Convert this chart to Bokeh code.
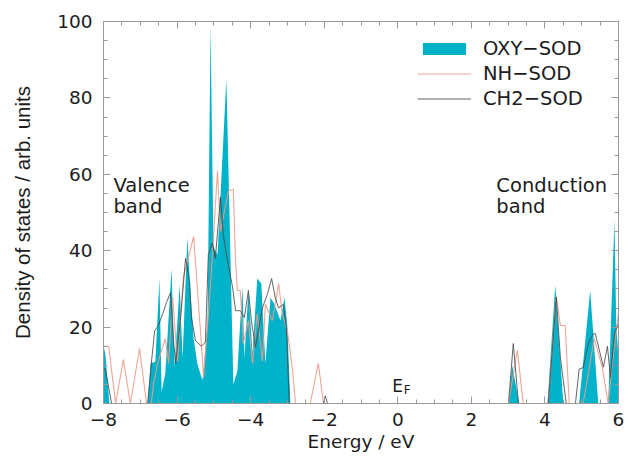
import numpy as np
from bokeh.plotting import figure
from bokeh.models import (Range1d, LinearAxis, FixedTicker, Label, Legend, LegendItem)
from bokeh.embed import file_html
from bokeh.resources import INLINE

# ---- data (energy in eV, density of states in arb. units) ----
oxy_e = [-8.00, -7.95, -7.84, -6.80, -6.72, -6.59, -6.48, -6.42, -6.32, -6.15,
         -6.07, -5.93, -5.85, -5.72, -5.64, -5.55, -5.45, -5.31, -5.23, -5.17,
         -5.09, -5.01, -4.90, -4.66, -4.55, -4.47, -4.36, -4.28, -4.22, -4.17,
         -4.06, -3.95, -3.82, -3.71, -3.60, -3.46, -3.35, -3.19, -3.08, -3.00,
         -2.92, 3.01, 3.11, 3.30, 4.07, 4.28, 4.50, 4.93, 5.23, 5.45,
         5.72, 5.89, 5.94, 6.00]
oxy_dos = [15, 13, 0, 0, 10.5, 11, 32.7, 3, 8, 35.3,
           9.5, 31, 12, 43.4, 29.6, 17, 10.5, 6, 14, 21.7,
           99, 41, 39, 85, 39, 5, 8.6, 21.7, 30.4, 12,
           29.6, 13, 32.7, 31.4, 10.5, 27.7, 26, 21.7, 27.7, 20,
           0, 0, 10, 0, 0, 31, 0, 0, 29.6, 0,
           0, 48, 20, 12]

nh_e = [-8.00, -7.86, -7.67, -7.46, -7.27, -7.02, -6.83, -6.70, -6.64, -6.53,
        -6.32, -6.23, -6.12, -5.99, -5.83, -5.55, -5.34, -5.28, -5.09, -4.90,
        -4.82, -4.60, -4.47, -4.41, -4.36, -4.28, -4.20, -4.06, -3.95, -3.82,
        -3.68, -3.60, -3.41, -3.24, -3.14, -3.00, -2.86, -2.78, -2.38, -2.16,
        -2.02, 3.01, 3.25, 3.41, 4.09, 4.31, 4.42, 4.55, 4.66, 5.04,
        5.34, 5.56, 5.72, 5.83, 6.00]
nh_dos = [15, 15, 0, 11.5, 0, 14.4, 0, 0, 5, 10.5,
          17, 10.5, 27.7, 11, 33, 43.7, 15.7, 6.8, 31, 61,
          45, 55.7, 56, 37, 29.6, 29.6, 15.7, 21.7, 10.5, 23.5,
          11, 26, 21.7, 31.4, 23.5, 19, 8.6, 0, 0, 10.5,
          0, 0, 14, 0, 0, 28, 20.4, 20.4, 0, 0,
          17, 9.4, 0, 10, 24]

ch2_e = [-8.00, -7.95, -7.78, -6.80, -6.70, -6.61, -6.51, -6.37, -6.29, -6.18,
         -6.10, -6.04, -5.91, -5.77, -5.66, -5.61, -5.50, -5.34, -5.23, -5.15,
         -5.04, -4.96, -4.82, -4.74, -4.63, -4.49, -4.41, -4.28, -4.17, -4.06,
         -3.98, -3.87, -3.68, -3.54, -3.43, -3.33, -3.24, -3.11, -3.03, -2.95,
         -2.02, -1.97, -1.91, 3.01, 3.14, 3.28, 4.09, 4.31, 4.42, 4.58,
         4.83, 4.93, 5.04, 5.18, 5.32, 5.37, 5.59, 5.70, 5.78, 5.89,
         6.00]
ch2_dos = [9, 9, 0, 0, 10.5, 19, 20.4, 24, 26.4, 29,
           17, 10.5, 21.7, 38, 32, 22.5, 16.5, 15, 16, 39,
           42, 38, 54, 44, 37.4, 30.4, 24.3, 24.3, 22.5, 29.6,
           21.7, 14.7, 25, 28.8, 32.7, 27.7, 25, 26, 20, 0,
           0, 2, 0, 0, 15.7, 0, 0, 27.8, 12, 0,
           0, 9, 9.4, 15.7, 18.3, 18.3, 9.5, 15, 6.8, 18.3,
           21]

series_names = ["OXY\u2212SOD", "NH\u2212SOD", "CH2\u2212SOD"]
x_ticks = [-8, -6, -4, -2, 0, 2, 4, 6]
x_tick_labels = ["\u22128", "\u22126", "\u22124", "\u22122", "0", "2", "4", "6"]
x_minor = [-8 + 0.5 * i for i in range(29)]
y_ticks = [0, 20, 40, 60, 80, 100]
y_minor = [5 * i for i in range(21)]

FONT = "DejaVu Sans"
TXT = "#1c1c1c"
AX = "#9a9a9a"
CYAN = "#00B3CB"
SALMON = "#EE9A88"
GRAY = "#4a4a4a"

p = figure(width=628, height=458, x_range=Range1d(-8, 6), y_range=Range1d(0, 100),
           output_backend="svg", toolbar_location=None,
           min_border_left=103, min_border_right=10, min_border_top=21, min_border_bottom=55)
p.xgrid.visible = False
p.ygrid.visible = False
p.outline_line_color = None
p.background_fill_color = "white"

r_oxy = p.varea(x=oxy_e, y1=[0] * len(oxy_e), y2=oxy_dos, fill_color=CYAN)
r_nh = p.line(nh_e, nh_dos, line_color=SALMON, line_width=1.1, line_alpha=0.9)
r_ch2 = p.line(ch2_e, ch2_dos, line_color=GRAY, line_width=1.0, line_alpha=0.85)

def style(ax):
    ax.axis_line_color = AX
    ax.major_tick_line_color = AX
    ax.minor_tick_line_color = AX
    ax.major_tick_in = 7
    ax.major_tick_out = 0
    ax.minor_tick_in = 4
    ax.minor_tick_out = 0
    ax.major_label_text_font = FONT
    ax.major_label_text_font_size = "18.5px"
    ax.major_label_text_color = TXT
    ax.axis_label_text_font = FONT
    ax.axis_label_text_font_size = "18.5px"
    ax.axis_label_text_font_style = "normal"
    ax.axis_label_text_color = TXT

xa = p.xaxis[0]
xa.ticker = FixedTicker(ticks=x_ticks, minor_ticks=x_minor)
style(xa)
xa.major_label_overrides = {t: s for t, s in zip(x_ticks, x_tick_labels)}
xa.major_label_standoff = 9
xa.axis_label = "Energy / eV"
xa.axis_label_standoff = 2

ya = p.yaxis[0]
ya.ticker = FixedTicker(ticks=y_ticks, minor_ticks=y_minor)
style(ya)
ya.major_label_standoff = 11
ya.axis_label = "Density of states / arb. units"
ya.axis_label_text_font = "Liberation Sans"
ya.axis_label_text_font_size = "20.5px"
ya.axis_label_standoff = 20

# mirrored tick marks on top and right (no labels drawn)
top = LinearAxis(ticker=FixedTicker(ticks=x_ticks, minor_ticks=x_minor))
style(top)
top.major_label_text_color = None
top.major_label_text_font_size = "1px"
top.major_label_standoff = 0
p.add_layout(top, "above")

right = LinearAxis(ticker=FixedTicker(ticks=y_ticks, minor_ticks=y_minor))
style(right)
right.major_label_text_color = None
right.major_label_text_font_size = "1px"
right.major_label_standoff = 0
p.add_layout(right, "right")

legend = Legend(items=[LegendItem(label=series_names[0], renderers=[r_oxy]),
                       LegendItem(label=series_names[1], renderers=[r_nh]),
                       LegendItem(label=series_names[2], renderers=[r_ch2])],
                location=(314, 292), orientation="vertical",
                label_text_font=FONT, label_text_font_size="19.5px", label_text_color=TXT,
                glyph_width=54, glyph_height=15, label_height=25, label_standoff=12,
                spacing=0, padding=0, margin=0,
                border_line_color=None, background_fill_alpha=0)
p.add_layout(legend)

def lab(x, y, t, size="19.5px"):
    p.add_layout(Label(x=x, y=y, text=t, text_font=FONT, text_font_size=size,
                       text_color=TXT, text_baseline="alphabetic", text_align="left"))

lab(-7.73, 57.0, "Valence")
lab(-7.73, 51.5, "band")
lab(2.68, 57.0, "Conduction")
lab(2.68, 51.5, "band")
lab(-0.15, 4.7, "E", "17px")
lab(0.16, 3.5, "F", "12px")

open("out.html", "w").write(file_html(p, INLINE))
